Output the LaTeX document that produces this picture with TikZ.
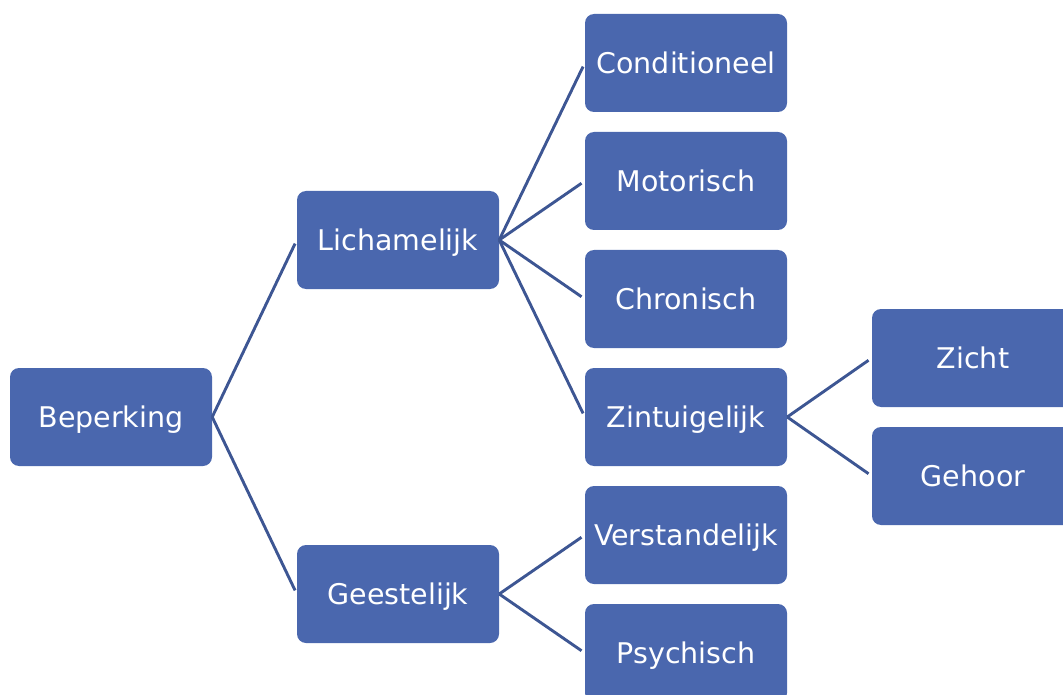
\documentclass[tikz,border=0pt]{standalone}
\usepackage{fontspec}
\setmainfont{DejaVu Sans}
\usepackage{tikz}
\usetikzlibrary{positioning}

\definecolor{boxblue}{HTML}{4A67AE}
\definecolor{lineblue}{HTML}{3D5693}

\begin{document}
\begin{tikzpicture}[x=1pt,y=-1pt,
    box/.style={rectangle, rounded corners=9pt, fill=boxblue, text=white,
                minimum width=202pt, minimum height=98pt, inner sep=0pt,
                text height=20.8pt, text depth=0pt,
                font=\fontsize{28.5}{34}\selectfont},
    link/.style={draw=lineblue, line width=2.9pt, shorten >=4pt}]
  \useasboundingbox (0,0) rectangle (1063,695);

  \node[box] (beperking)     at (111,417) {Beperking};
  \node[box] (lichamelijk)   at (398,240) {Lichamelijk};
  \node[box] (geestelijk)    at (398,594) {Geestelijk};
  \node[box] (conditioneel)  at (686,63)  {Conditioneel};
  \node[box] (motorisch)     at (686,181) {Motorisch};
  \node[box] (chronisch)     at (686,299) {Chronisch};
  \node[box] (zintuigelijk)  at (686,417) {Zintuigelijk};
  \node[box] (verstandelijk) at (686,535) {Verstandelijk};
  \node[box] (psychisch)     at (686,653) {Psychisch};
  \node[box] (zicht)         at (973,358) {Zicht};
  \node[box] (gehoor)        at (973,476) {Gehoor};

  \path[link]
        (beperking.east)    edge (lichamelijk.west)
        (beperking.east)    edge (geestelijk.west)

        (lichamelijk.east)  edge (conditioneel.west)
        (lichamelijk.east)  edge (motorisch.west)
        (lichamelijk.east)  edge (chronisch.west)
        (lichamelijk.east)  edge (zintuigelijk.west)

        (zintuigelijk.east) edge (zicht.west)
        (zintuigelijk.east) edge (gehoor.west)

        (geestelijk.east)   edge (verstandelijk.west)
        (geestelijk.east)   edge (psychisch.west);
\end{tikzpicture}
\end{document}
